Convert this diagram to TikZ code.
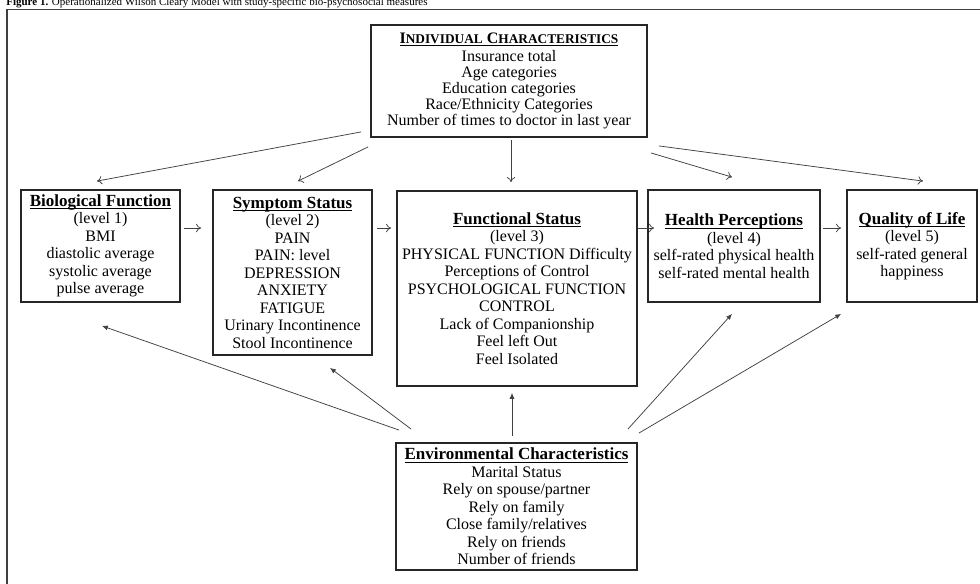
\documentclass[tikz,border=0pt]{standalone}
\usepackage{fontspec}
\setmainfont{Liberation Serif}
\usetikzlibrary{arrows.meta}

\tikzset{
  box/.style={draw=black!85, line width=1.1pt, align=center, inner sep=0pt,
    font=\fontsize{9.6}{10.5}\selectfont},
  arr/.style={draw=black!75, line width=0.45pt, -{To[length=3pt,width=5pt]}},
  arrup/.style={draw=black!75, line width=0.45pt, -{Latex[length=3.5pt,width=3pt]}},
}
\newcommand{\hd}[1]{{\fontsize{10.2}{10.5}\selectfont\bfseries\underline{\raisebox{0pt}[\height][0pt]{#1}}}}

\begin{document}
\begin{tikzpicture}[x=0.6pt, y=-0.6pt]
    \useasboundingbox (0,0) rectangle (980,583);

    % caption and outer frame
    \node[anchor=base west, inner sep=0pt, font=\fontsize{6.6}{8}\selectfont] (caption) at (6,5.5)
      {\textbf{Figure 1.} Operationalized Wilson Cleary Model with study-specific bio-psychosocial measures};
    \draw[black!75, line width=0.9pt] (7,600) -- (7,9.5) -- (1000,9.5);

    % boxes
    \node[box, minimum width=165.6pt, minimum height=67.2pt, font=\fontsize{9.6}{9.6}\selectfont] (indiv) at (509,81)
      {{\bfseries\underline{\raisebox{0pt}[\height][0pt]{I{\fontsize{8}{9.6}\selectfont NDIVIDUAL} C{\fontsize{8}{9.6}\selectfont HARACTERISTICS}}}}\\[1.5pt]
       Insurance total\\ Age categories\\ Education categories\\ Race/Ethnicity Categories\\
       Number of times to doctor in last year};
    \node[box, minimum width=95.4pt, minimum height=67.2pt] (bio) at (100.5,246)
      {\hd{Biological Function}\\ (level 1)\\ BMI\\ diastolic average\\ systolic average\\ pulse average};
    \node[box, minimum width=95.4pt, minimum height=99pt] (symp) at (292.5,272.5)
      {\hd{Symptom Status}\\ (level 2)\\ PAIN\\ PAIN: level\\ DEPRESSION\\ ANXIETY\\ FATIGUE\\
       Urinary Incontinence\\ Stool Incontinence};
    \node[box, minimum width=144pt, minimum height=117pt] (func) at (517,288.5)
      {\hd{Functional Status}\\ (level 3)\\ PHYSICAL FUNCTION Difficulty\\ Perceptions of Control\\
       PSYCHOLOGICAL FUNCTION\\ CONTROL\\ Lack of Companionship\\ Feel left Out\\ Feel Isolated};
    \node[box, minimum width=103.2pt, minimum height=67.2pt] (health) at (734,246)
      {\hd{Health Perceptions}\\ (level 4)\\ self-rated physical health\\ self-rated mental health};
    \node[box, minimum width=78pt, minimum height=67.2pt] (qol) at (912,246)
      {\hd{Quality of Life}\\ (level 5)\\ self-rated general\\ happiness};
    \node[box, minimum width=144.6pt, minimum height=76.2pt] (env) at (516.5,506.5)
      {\hd{Environmental Characteristics}\\ Marital Status\\ Rely on spouse/partner\\ Rely on family\\
       Close family/relatives\\ Rely on friends\\ Number of friends};

    % arrows from individual characteristics
    \draw[arr] ([shift={(-9,-6)}]indiv.south west) -- ([shift={(-3.5,-8)}]bio.north);
    \draw[arr] ([shift={(-2,9)}]indiv.south west) -- ([shift={(5.5,-8)}]symp.north);
    \draw[arr] ([shift={(2,2)}]indiv.south) -- ([shift={(-6,-8)}]func.north);
    \draw[arr] ([shift={(3,15)}]indiv.south east) -- ([shift={(-2,-12)}]health.north);
    \draw[arr] ([shift={(11,8)}]indiv.south east) -- ([shift={(11,-8)}]qol.north);

    % levels
    \draw[arr] ([shift={(3,-18)}]bio.east) -- ([shift={(-11,-44.5)}]symp.west);
    \draw[arr] ([shift={(4,-44.5)}]symp.east) -- ([shift={(-5,-60.5)}]func.west);
    \draw[arr] ([shift={(0,-60.5)}]func.east) -- ([shift={(7,-18)}]health.west);
    \draw[arr] ([shift={(2,-18)}]health.east) -- ([shift={(-5,-18)}]qol.west);

    % arrows from environmental characteristics
    \draw[arrup] ([shift={(4,-12)}]env.north west) -- ([shift={(1.5,23)}]bio.south);
    \draw[arrup] ([shift={(16,-13)}]env.north west) -- ([shift={(37.5,12)}]symp.south);
    \draw[arrup] ([shift={(-4.5,-6)}]env.north) -- ([shift={(-5,6)}]func.south);
    \draw[arrup] ([shift={(-10,-13)}]env.north east) -- ([shift={(-2,11)}]health.south);
    \draw[arrup] ([shift={(1,-9)}]env.north east) -- ([shift={(-5,11)}]qol.south west);
  \end{tikzpicture}
\end{document}
